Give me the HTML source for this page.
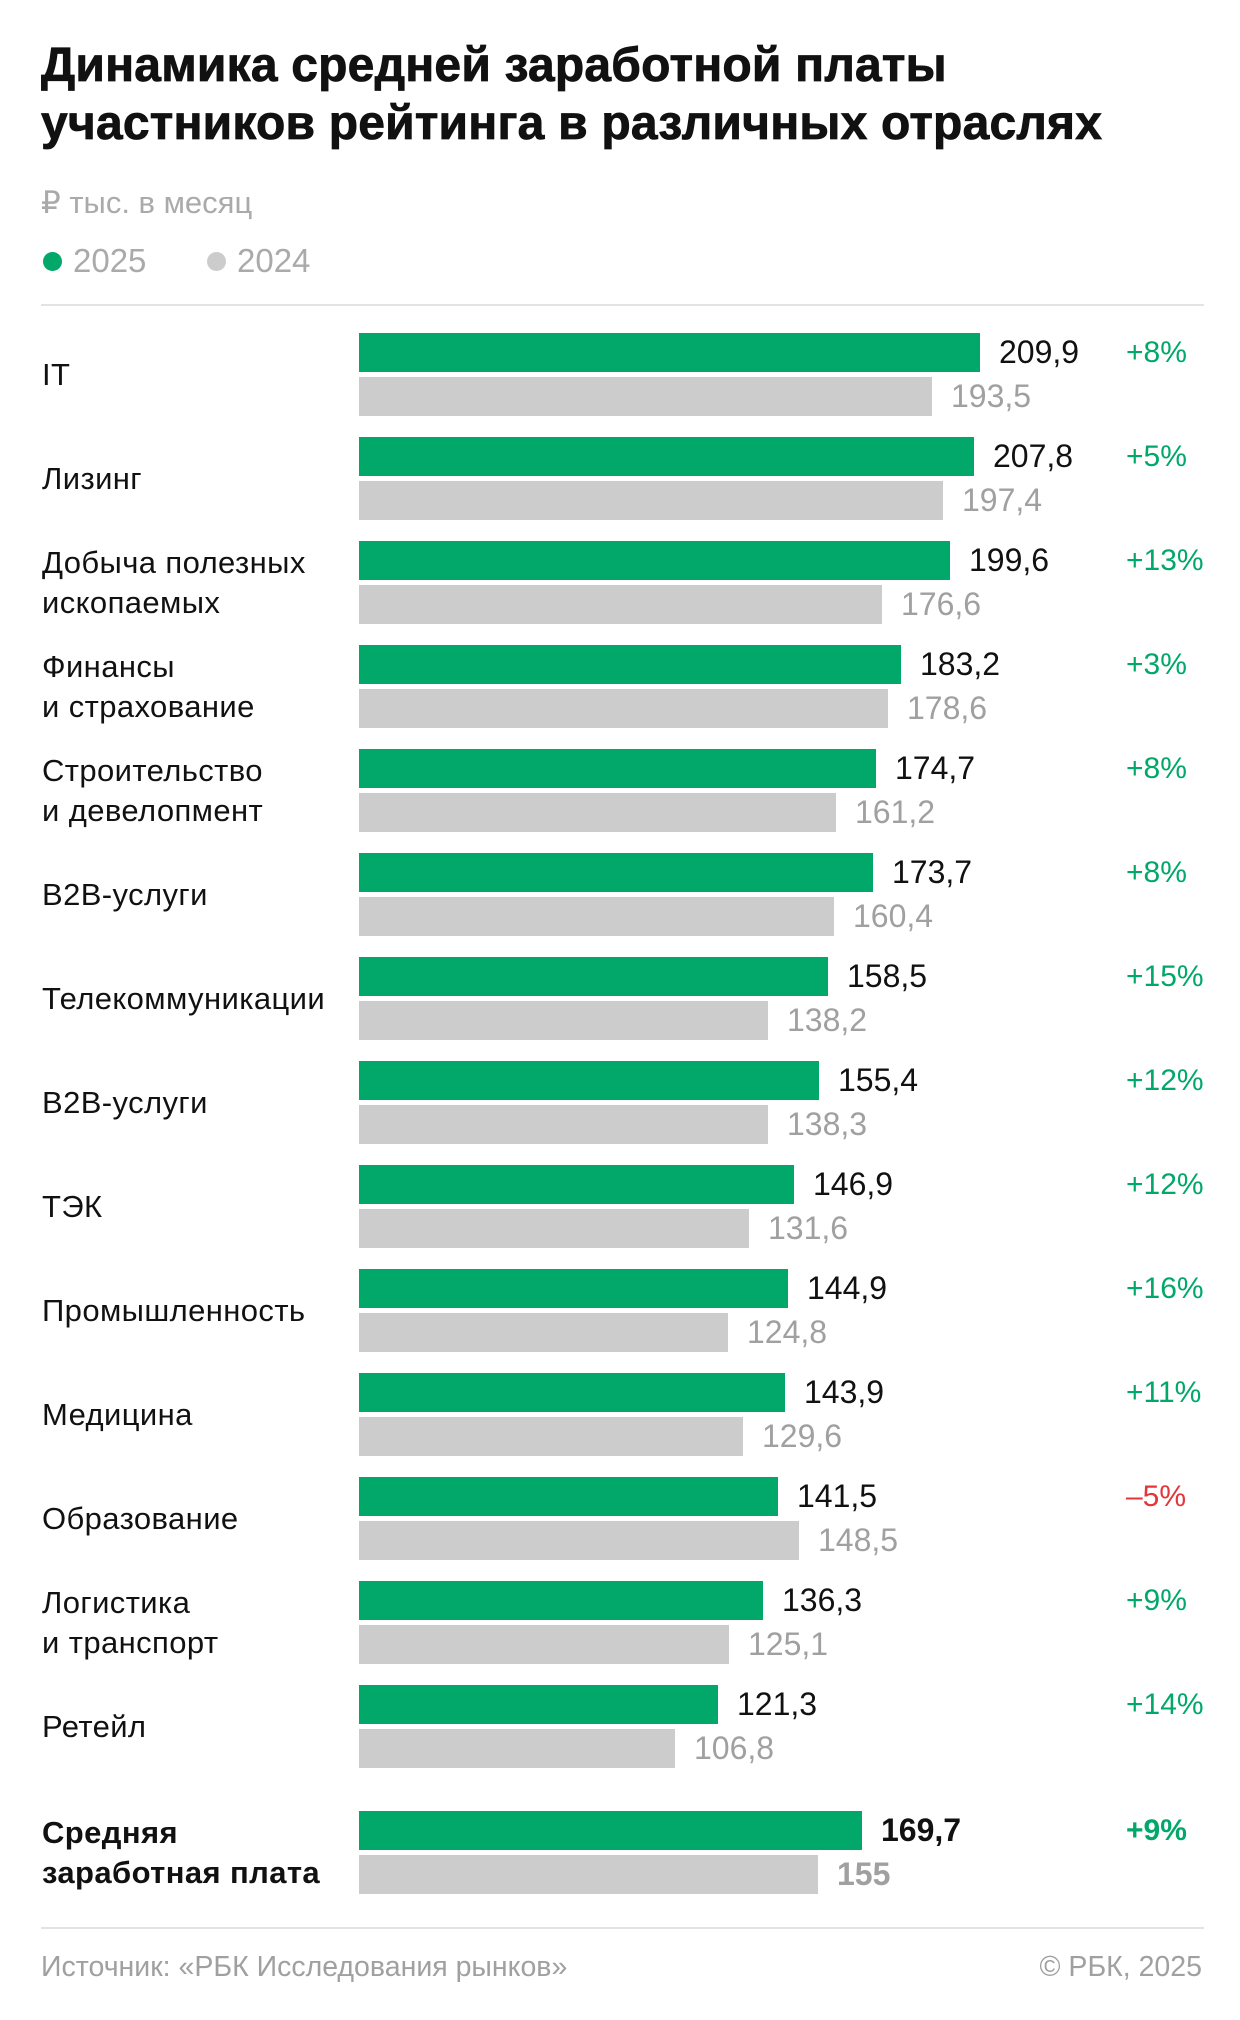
<!DOCTYPE html>
<html><head><meta charset="utf-8">
<style>
*{margin:0;padding:0;box-sizing:border-box}
body{width:1240px;height:2020px;background:#fff;position:relative;overflow:hidden;font-family:"Liberation Sans","Noto Sans CJK SC",sans-serif;color:#111}
.a{position:absolute}
.t{left:41px;font-weight:bold;font-size:48px;line-height:56px;letter-spacing:0.2px;color:#111;-webkit-text-stroke:0.8px #111}
.r{position:absolute;left:0;width:1240px;height:83px}
.lb{position:absolute;left:42px;top:0;height:83px;display:flex;align-items:center;font-size:31px;line-height:40px;letter-spacing:0.4px;color:#111}
.g{position:absolute;left:359px;top:0;height:39px;background:#02a86a}
.s{position:absolute;left:359px;top:44px;height:39px;background:#cccccc}
.v{position:absolute;top:0;line-height:39px;font-size:32px;color:#111}
.w{position:absolute;top:44px;line-height:39px;font-size:32px;color:#a0a0a0}
.p{position:absolute;left:1126px;top:0;line-height:39px;font-size:30px;color:#02a86a}
.b .lb,.b .v,.b .w,.b .p{font-weight:bold}
</style></head><body>
<div class="a t" style="top:38px">Динамика средней заработной платы</div>
<div class="a t" style="top:96px">участников рейтинга в различных отраслях</div>
<div class="a" style="left:41px;top:185px;font-size:31px;color:#aaa">₽ тыс. в месяц</div>
<div class="a" style="left:43px;top:252px;width:19px;height:19px;border-radius:50%;background:#02a86a"></div>
<div class="a" style="left:73px;top:242px;font-size:33px;color:#aaa">2025</div>
<div class="a" style="left:207px;top:252px;width:19px;height:19px;border-radius:50%;background:#cccccc"></div>
<div class="a" style="left:237px;top:242px;font-size:33px;color:#aaa">2024</div>
<div class="a" style="left:41px;top:304px;width:1163px;height:2px;background:#e3e3e3"></div>

<div class="r" style="top:333px"><div class="lb">IT</div><div class="g" style="width:621px"></div><div class="s" style="width:573px"></div><div class="v" style="left:999px">209,9</div><div class="w" style="left:951px">193,5</div><div class="p">+8%</div></div>
<div class="r" style="top:437px"><div class="lb">Лизинг</div><div class="g" style="width:615px"></div><div class="s" style="width:584px"></div><div class="v" style="left:993px">207,8</div><div class="w" style="left:962px">197,4</div><div class="p">+5%</div></div>
<div class="r" style="top:541px"><div class="lb">Добыча полезных<br>ископаемых</div><div class="g" style="width:591px"></div><div class="s" style="width:523px"></div><div class="v" style="left:969px">199,6</div><div class="w" style="left:901px">176,6</div><div class="p">+13%</div></div>
<div class="r" style="top:645px"><div class="lb">Финансы<br>и страхование</div><div class="g" style="width:542px"></div><div class="s" style="width:529px"></div><div class="v" style="left:920px">183,2</div><div class="w" style="left:907px">178,6</div><div class="p">+3%</div></div>
<div class="r" style="top:749px"><div class="lb">Строительство<br>и девелопмент</div><div class="g" style="width:517px"></div><div class="s" style="width:477px"></div><div class="v" style="left:895px">174,7</div><div class="w" style="left:855px">161,2</div><div class="p">+8%</div></div>
<div class="r" style="top:853px"><div class="lb">B2B-услуги</div><div class="g" style="width:514px"></div><div class="s" style="width:475px"></div><div class="v" style="left:892px">173,7</div><div class="w" style="left:853px">160,4</div><div class="p">+8%</div></div>
<div class="r" style="top:957px"><div class="lb">Телекоммуникации</div><div class="g" style="width:469px"></div><div class="s" style="width:409px"></div><div class="v" style="left:847px">158,5</div><div class="w" style="left:787px">138,2</div><div class="p">+15%</div></div>
<div class="r" style="top:1061px"><div class="lb">B2B-услуги</div><div class="g" style="width:460px"></div><div class="s" style="width:409px"></div><div class="v" style="left:838px">155,4</div><div class="w" style="left:787px">138,3</div><div class="p">+12%</div></div>
<div class="r" style="top:1165px"><div class="lb">ТЭК</div><div class="g" style="width:435px"></div><div class="s" style="width:390px"></div><div class="v" style="left:813px">146,9</div><div class="w" style="left:768px">131,6</div><div class="p">+12%</div></div>
<div class="r" style="top:1269px"><div class="lb">Промышленность</div><div class="g" style="width:429px"></div><div class="s" style="width:369px"></div><div class="v" style="left:807px">144,9</div><div class="w" style="left:747px">124,8</div><div class="p">+16%</div></div>
<div class="r" style="top:1373px"><div class="lb">Медицина</div><div class="g" style="width:426px"></div><div class="s" style="width:384px"></div><div class="v" style="left:804px">143,9</div><div class="w" style="left:762px">129,6</div><div class="p">+11%</div></div>
<div class="r" style="top:1477px"><div class="lb">Образование</div><div class="g" style="width:419px"></div><div class="s" style="width:440px"></div><div class="v" style="left:797px">141,5</div><div class="w" style="left:818px">148,5</div><div class="p" style="color:#e5353a">–5%</div></div>
<div class="r" style="top:1581px"><div class="lb">Логистика<br>и транспорт</div><div class="g" style="width:404px"></div><div class="s" style="width:370px"></div><div class="v" style="left:782px">136,3</div><div class="w" style="left:748px">125,1</div><div class="p">+9%</div></div>
<div class="r" style="top:1685px"><div class="lb">Ретейл</div><div class="g" style="width:359px"></div><div class="s" style="width:316px"></div><div class="v" style="left:737px">121,3</div><div class="w" style="left:694px">106,8</div><div class="p">+14%</div></div>
<div class="r b" style="top:1811px"><div class="lb">Средняя<br>заработная плата</div><div class="g" style="width:503px"></div><div class="s" style="width:459px"></div><div class="v" style="left:881px">169,7</div><div class="w" style="left:837px">155</div><div class="p">+9%</div></div>

<div class="a" style="left:41px;top:1927px;width:1163px;height:2px;background:#e3e3e3"></div>
<div class="a" style="left:41px;top:1951px;font-size:28.5px;color:#a0a0a0">Источник: «РБК Исследования рынков»</div>
<div class="a" style="right:38px;top:1951px;font-size:28.5px;color:#a0a0a0">© РБК, 2025</div>
</body></html>
